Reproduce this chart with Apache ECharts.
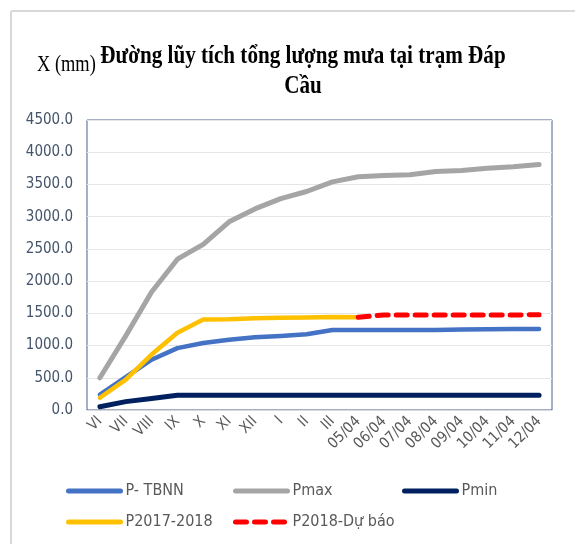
<!DOCTYPE html>
<html>
<head>
<meta charset="utf-8">
<script src="https://cdn.jsdelivr.net/npm/echarts@6/dist/echarts.min.js"></script>
<style>html,body{margin:0;padding:0;background:#fff}#c{width:575px;height:544px}</style>
</head>
<body>
<div id="c"></div>
<script>
const categories = ['VI','VII','VIII','IX','X','XI','XII','I','II','III','05/04','06/04','07/04','08/04','09/04','10/04','11/04','12/04'];
const pTBNN = [240, 510, 780, 960, 1040, 1090, 1130, 1150, 1175, 1240, 1240, 1240, 1240, 1242, 1250, 1253, 1255, 1258];
const pMax = [500, 1150, 1830, 2340, 2570, 2920, 3120, 3280, 3390, 3540, 3620, 3640, 3650, 3700, 3715, 3750, 3775, 3810];
const pMin = [50, 130, 180, 230, 230, 230, 230, 230, 230, 230, 230, 230, 230, 230, 230, 230, 230, 230];
const p2017 = [190, 470, 860, 1200, 1405, 1410, 1425, 1430, 1435, 1445, 1440, null, null, null, null, null, null, null];
const pForecast = [null, null, null, null, null, null, null, null, null, null, 1440, 1475, 1475, 1475, 1475, 1475, 1475, 1478];
const seriesNames = ['P- TBNN', 'Pmax', 'Pmin', 'P2017-2018', 'P2018-Dự báo'];

const chart = echarts.init(document.getElementById('c'));
const narrow = 'Liberation Sans Narrow, DejaVu Sans Condensed, sans-serif';
const legFont = {fontSize: 16, color: '#595959', fontFamily: narrow};
function leg(name, left, top) {
  return {data: [name], left: left, top: top, itemWidth: 52, itemHeight: 10, itemGap: 0, padding: 0,
    textStyle: legFont, selectedMode: false, itemStyle: {opacity: 0},
    lineStyle: {width: 5, cap: 'round'}};
}
function line(name, data, color, width, type, z) {
  return {name: name, type: 'line', data: data, symbol: 'none', smooth: false, z: z,
    lineStyle: {color: color, width: width, type: type || 'solid', cap: 'round', join: 'round'},
    itemStyle: {color: color}};
}
chart.setOption({
  animation: false,
  grid: {left: 87, right: 23, top: 120, bottom: 134, show: true, borderColor: '#4a5f8f', borderWidth: 1, backgroundColor: 'transparent'},
  legend: [
    leg(seriesNames[0], 66, 483),
    leg(seriesNames[1], 233, 483),
    leg(seriesNames[2], 402, 483),
    leg(seriesNames[3], 66, 514),
    leg(seriesNames[4], 233, 514)
  ],
  graphic: [
    {type: 'line', shape: {x1: 11, y1: 11, x2: 11, y2: 544}, style: {stroke: '#d9d9d9', lineWidth: 2}},
    {type: 'line', shape: {x1: 11, y1: 11, x2: 575, y2: 11}, style: {stroke: '#d9d9d9', lineWidth: 2}},
    {type: 'text', x: 37, y: 53, scaleX: 0.8, style: {text: 'X (mm)', font: '23px "Liberation Serif", serif', fill: '#000'}},
    {type: 'text', x: 303, y: 42, scaleX: 0.845, style: {text: 'Đường lũy tích tổng lượng mưa tại trạm Đáp\nCầu', textAlign: 'center', lineHeight: 30, font: 'bold 25px "Liberation Serif", serif', fill: '#000'}}
  ],
  xAxis: {
    type: 'category', data: categories, boundaryGap: true,
    axisLine: {show: true, lineStyle: {color: '#d9d9d9', width: 1}},
    axisTick: {show: false},
    axisLabel: {rotate: 45, interval: 0, margin: 9, fontSize: 15, color: '#595959', fontFamily: narrow}
  },
  yAxis: {
    type: 'value', min: 0, max: 4500, interval: 500,
    axisLine: {show: false}, axisTick: {show: false},
    splitLine: {lineStyle: {color: '#e6e6e6', width: 1}},
    axisLabel: {margin: 14, fontSize: 15, color: '#44546a', fontFamily: narrow, formatter: v => v.toFixed(1)}
  },
  series: [
    line(seriesNames[0], pTBNN, '#4472c4', 4.5, 'solid', 3),
    line(seriesNames[1], pMax, '#a5a5a5', 5, 'solid', 2),
    line(seriesNames[2], pMin, '#002060', 5, 'solid', 4),
    line(seriesNames[3], p2017, '#ffc000', 4.5, 'solid', 5),
    line(seriesNames[4], pForecast, '#ff0000', 5, [11, 8], 6)
  ]
});
</script>
</body>
</html>
